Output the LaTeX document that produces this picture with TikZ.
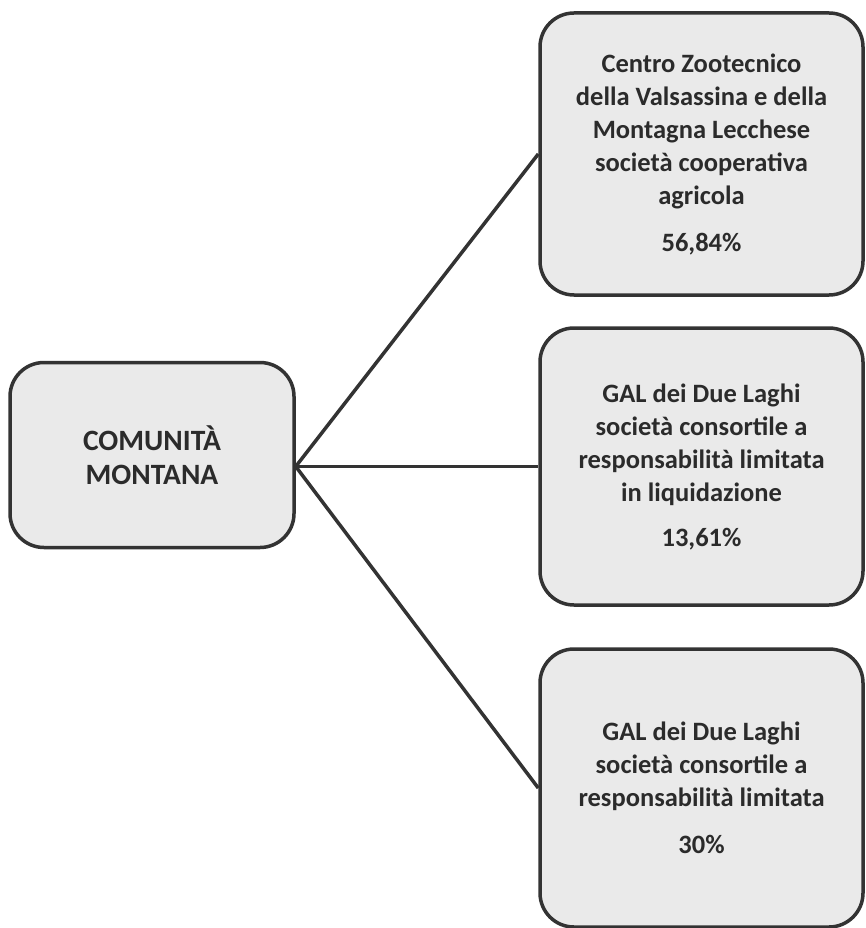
\documentclass[tikz,border=0pt]{standalone}
\usepackage{fontspec}
\setmainfont{Carlito}
\usepackage{tikz}

\definecolor{boxfill}{HTML}{EAEAEA}
\definecolor{boxline}{HTML}{333333}
\definecolor{boxtext}{HTML}{2B2B2B}

\tikzset{
	entebox/.style={draw=boxline, fill=boxfill, line width=3.5pt, rounded corners=34pt,
		align=center, text=boxtext, inner sep=0pt,
		font=\fontsize{26.5}{33}\selectfont\bfseries},
	legame/.style={draw=boxline, line width=3.5pt}
}

\begin{document}
\begin{tikzpicture}[x=1pt, y=-1pt]
	\useasboundingbox (0,0) rectangle (865,928);
	%\draw[help lines] (0,0) grid[step=100] (865,928);
	\node[entebox, minimum width=284pt, minimum height=185pt, font=\fontsize{29.5}{34}\selectfont\bfseries] (comunita) at (152,455) {COMUNITÀ\\MONTANA};
	\node[entebox, minimum width=323pt, minimum height=282pt] (zootecnico) at (701.5,154) {Centro Zootecnico\\della Valsassina e della\\Montagna Lecchese\\società cooperativa\\agricola\\[14pt]56,84\%};
	\node[entebox, minimum width=323pt, minimum height=277pt] (galliq) at (701.5,466.5) {GAL dei Due Laghi\\società consortile a\\responsabilità limitata\\in liquidazione\\[12pt]13,61\%};
	\node[entebox, minimum width=323pt, minimum height=278pt] (gal) at (701.5,788) {GAL dei Due Laghi\\società consortile a\\responsabilità limitata\\[14pt]30\%};
	\coordinate (nodo) at (comunita.east |- galliq.west);
	\draw[legame] (nodo) -- (zootecnico.west);
	\draw[legame] (nodo) -- (galliq.west);
	\draw[legame] (nodo) -- (gal.west);
\end{tikzpicture}
\end{document}
